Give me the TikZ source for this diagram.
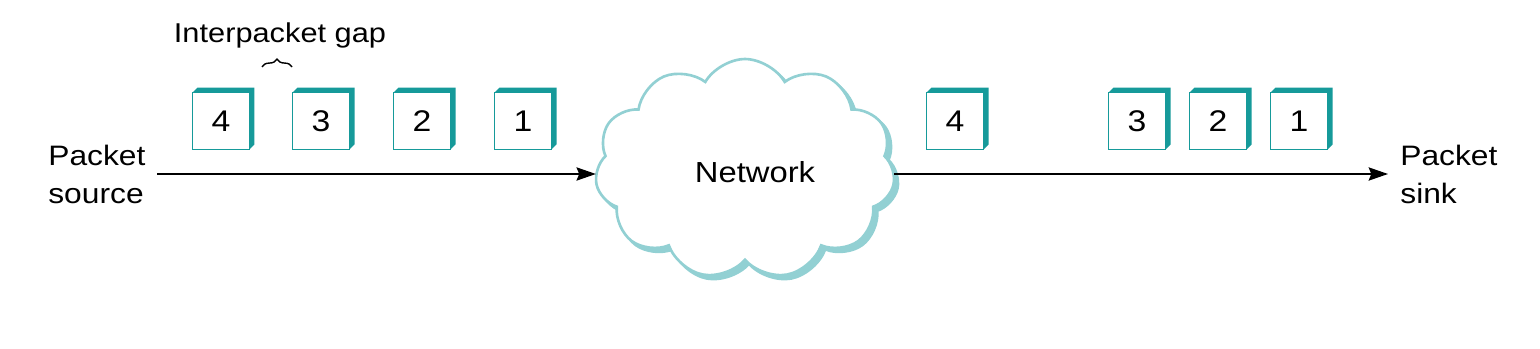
\documentclass[tikz,border=0pt]{standalone}
\usepackage{fontspec}
\setmainfont{Liberation Sans}[FakeStretch=1.13]
\usetikzlibrary{shapes.symbols,arrows.meta,decorations.pathreplacing}
\definecolor{pktteal}{RGB}{22,154,154}
\definecolor{cloudc}{RGB}{146,208,211}
\begin{document}
\begin{tikzpicture}[x=0.02cm,y=-0.02cm,
  pkt/.style={draw=pktteal,line width=1.1pt,fill=white,minimum size=1.14cm,inner sep=0pt,outer sep=0pt,
    font=\fontsize{17}{20}\selectfont},
  lbl/.style={inner sep=0pt,align=left,font=\fontsize{16}{21.5}\selectfont},
  flow/.style={line width=1.1pt,-{Stealth[length=11pt,width=7.5pt,inset=1.5pt]}},
  cloudshape/.style={cloud,cloud puffs=11,cloud puff arc=120,aspect=1.37,minimum width=6.0cm,minimum height=4.4cm,inner sep=0pt}
]
\useasboundingbox (0,0) rectangle (1540,348);
% labels
\node[lbl,anchor=north west] (src) at (48,145) {Packet\\source};
\node[lbl,anchor=north west] (snk) at (1400,145) {Packet\\sink};
\node[inner sep=0pt,anchor=base,font=\fontsize{15.5}{18}\selectfont] (gap) at (280,43) {Interpacket gap};
% cloud
\node[cloudshape,fill=cloudc,draw=cloudc,line width=1.5pt] (cloudsh) at (749,173) {};
\node[cloudshape,fill=white,draw=cloudc,line width=1.5pt] (cloud) at (745,169) {};
\node[inner sep=0pt,anchor=base,font=\fontsize{16.5}{20}\selectfont] (net) at (755,182) {Network};
% arrows
\coordinate (a0) at (157,174);
\coordinate (a1) at (1388,174);
\draw[flow] (a0) -- (a0 -| cloud.west);
\draw[flow] (a1 -| cloud.east) -- (a1);
% packets
\node[pkt] (L4) at (221,121) {4};
\node[pkt] (L3) at (321,121) {3};
\node[pkt] (L2) at (422,121) {2};
\node[pkt] (L1) at (523,121) {1};
\node[pkt] (R4) at (955,121) {4};
\node[pkt] (R3) at (1137,121) {3};
\node[pkt] (R2) at (1218,121) {2};
\node[pkt] (R1) at (1299,121) {1};
\foreach \n in {L4,L3,L2,L1,R4,R3,R2,R1}{
  \fill[pktteal] (\n.north west) -- ([shift={(5,-5)}]\n.north west) -- ([shift={(5,-5)}]\n.north east)
    -- ([shift={(5,-5)}]\n.south east) -- (\n.south east) -- (\n.north east) -- cycle;
}
% brace
\coordinate (b0) at (262,67);
\coordinate (b1) at (292,67);
\draw[line width=0.8pt,decorate,decoration={brace,amplitude=4.5pt}] (b0) -- (b1);
\end{tikzpicture}
\end{document}
